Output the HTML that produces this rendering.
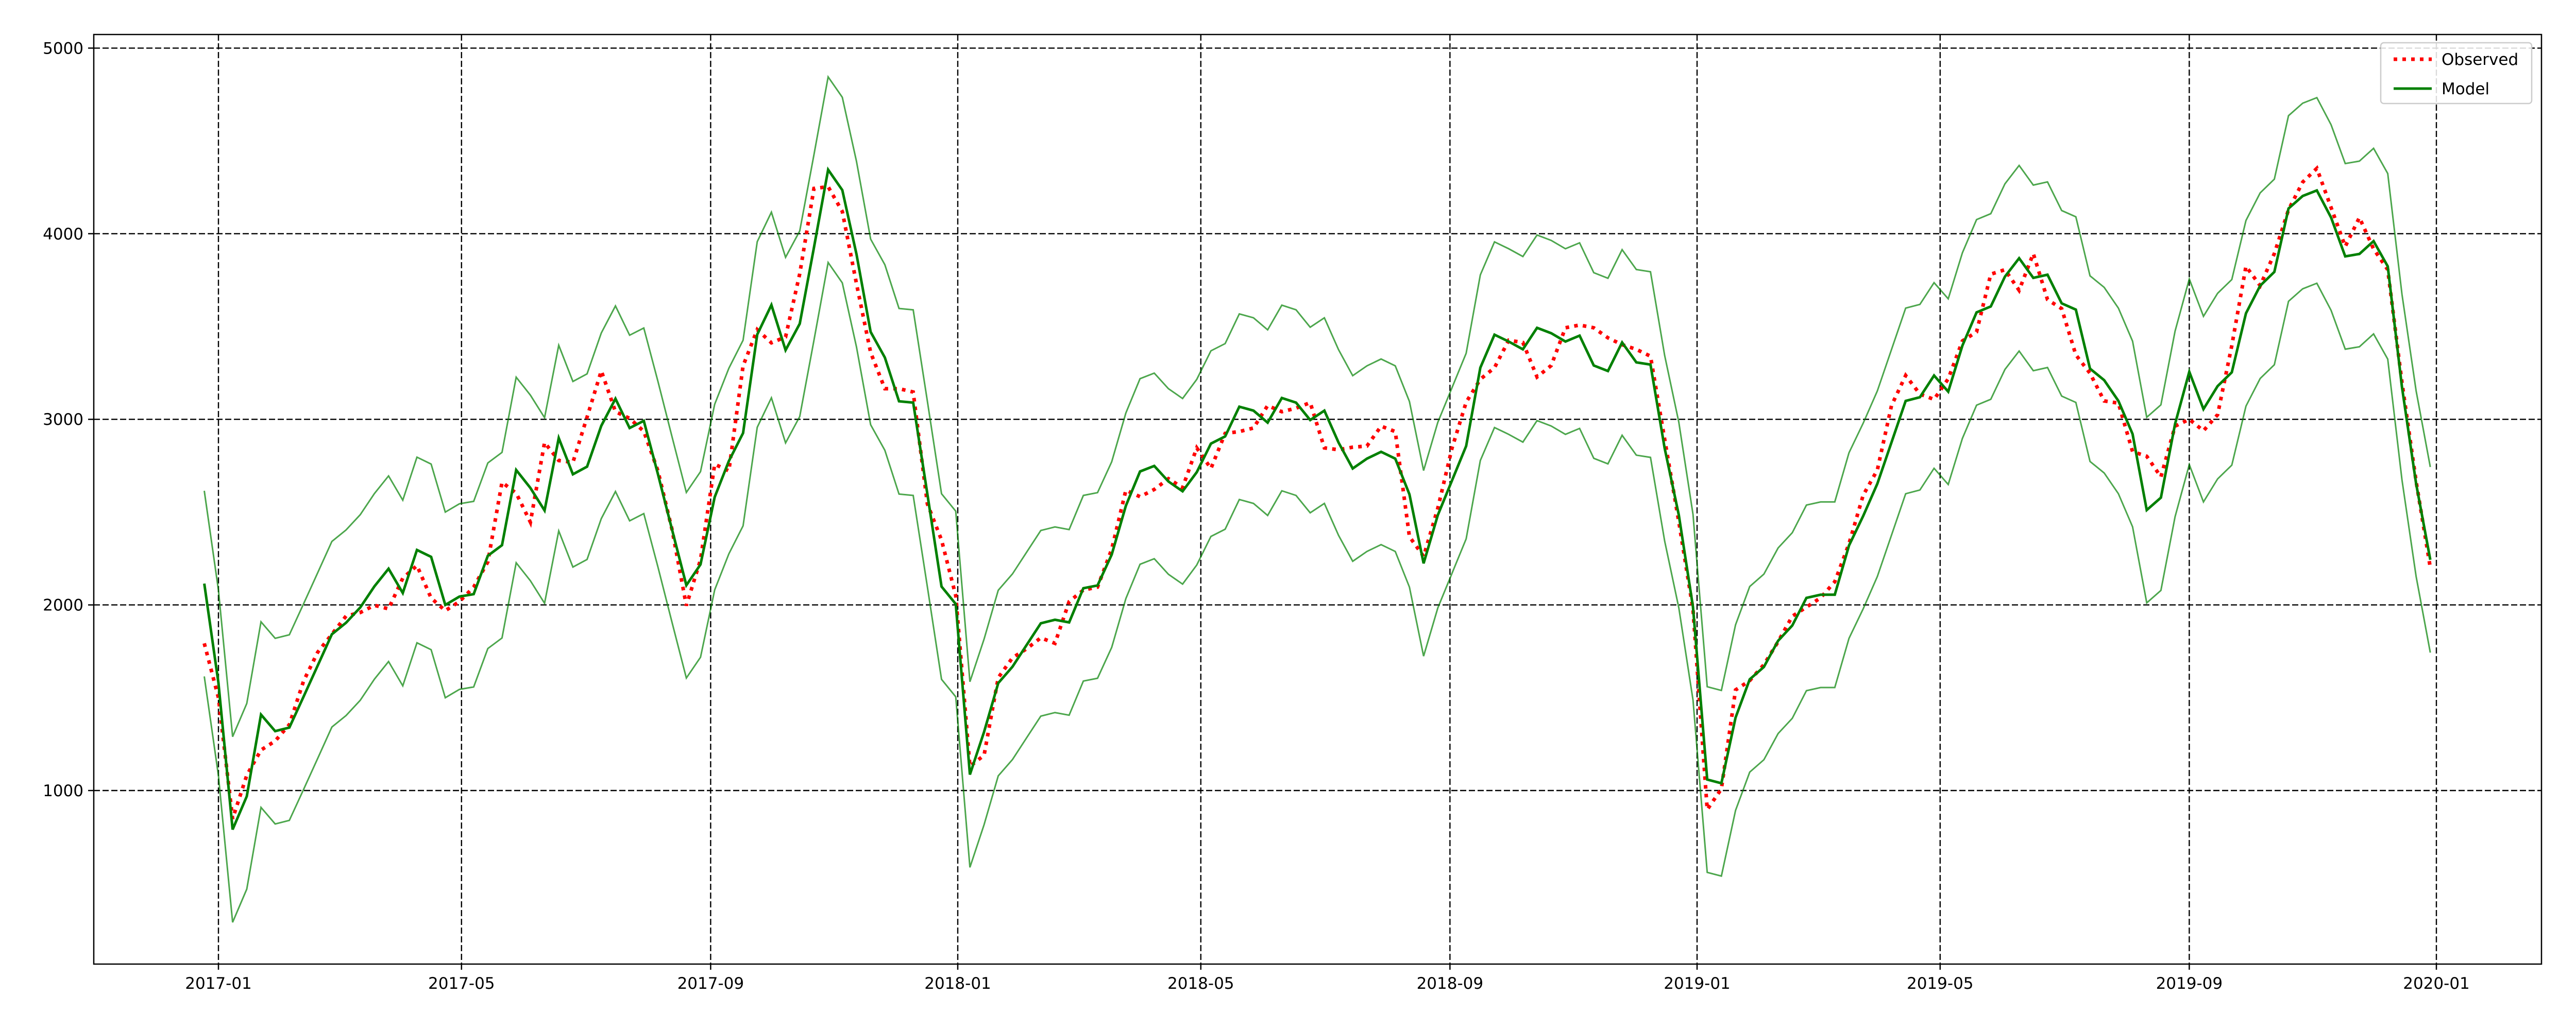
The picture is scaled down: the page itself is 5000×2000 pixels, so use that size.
<!DOCTYPE html>
<html><head><meta charset="utf-8"><style>
html,body{margin:0;padding:0;background:#fff;}
svg{display:block;}
</style></head><body>
<svg id="chart" width="5000" height="2000" viewBox="0 0 5000 2000" xmlns="http://www.w3.org/2000/svg"></svg>
<script>
const startDate = Date.UTC(2016, 11, 25);
const weekCount = 158;
const observedValues = [1793,1500,848,1082,1218,1267,1355,1589,1745,1842,1940,1959,1998,1979,2144,2212,2037,1969,2018,2096,2232,2661,2602,2446,2875,2778,2768,3012,3261,3041,3005,2935,2722,2403,1996,2244,2758,2722,3288,3483,3412,3444,3784,4244,4253,4120,3731,3360,3165,3165,3147,2545,2350,2050,
1130,1190,1608,1715,1764,1823,1793,2018,2080,2096,2300,2618,2583,2622,2680,2632,2846,2735,2924,2934,2953,3074,3041,3060,3090,2846,2836,2850,2856,2963,2934,2368,
2261,2521,2844,3092,3216,3278,3426,3414,3228,3290,3493,3508,3493,3439,3402,3377,3340,2893,2447,1976,897,1009,1542,1592,1678,1802,1939,1988,2038,2125,2330,
2591,2727,3074,3236,3136,3107,3218,3422,3471,3782,3806,3695,3893,3645,3596,3347,3248,3099,3087,2826,2801,2690,2963,3000,2938,3025,3397,3824,3720,3893,4129,
4278,4352,4141,3931,4087,3918,3806,3199,2665,2201];
const modelValues = [2115,1580,790,969,1409,1320,1339,1505,1673,1842,1904,1986,2100,2195,2064,2296,2259,2000,2045,2058,2265,2322,2727,2630,2509,2899,2704,2745,2965,3111,2953,2992,2704,2403,2106,2218,2581,2775,2926,3457,3616,3373,3515,3926,4345,4235,3890,3471,3333,3097,3090,2598,2099,2005,
1086,1316,1579,1667,1784,1901,1920,1906,2090,2105,2271,2534,2719,2749,2665,2612,2715,2869,2908,3068,3047,2982,3115,3090,2996,3047,2875,2735,2788,2825,2788,2596,
2224,2484,2670,2856,3278,3456,3419,3377,3493,3464,3419,3451,3290,3260,3414,3307,3295,2844,2484,1988,1059,1039,1393,1599,1666,1807,1889,2038,2055,2055,2320,
2479,2653,2876,3099,3119,3236,3149,3397,3576,3608,3769,3868,3762,3779,3625,3591,3273,3211,3099,2921,2511,2578,2975,3256,3055,3179,3253,3571,3720,3794,4136,
4203,4233,4087,3878,3891,3960,3824,3174,2653,2243];
const bandHalfWidth = 500;
const yTicks = [1000,2000,3000,4000,5000];
const xTickLabels = ["2017-01","2017-05","2017-09","2018-01","2018-05","2018-09","2019-01","2019-05","2019-09","2020-01"];
const legendLabels = ["Observed","Model"];

const NS = "http://www.w3.org/2000/svg";
const svg = document.getElementById('chart');
const L = 182, R = 4933, T = 67, B = 1872;
const DAY = 86400000;
const x0Date = Date.UTC(2017,0,1), x1Date = Date.UTC(2020,0,1);
function xScale(t){ return 424 + (t - x0Date)/(x1Date - x0Date)*(4729-424); }
function yScale(v){ return 1535 - (v-1000)*0.3604; }
function mk(tag, attrs){ const e=document.createElementNS(NS,tag); for(const k in attrs) e.setAttribute(k,attrs[k]); return e; }
const FONT = '"DejaVu Sans","Liberation Sans",sans-serif';

// grid
const grid = mk('g',{});


svg.appendChild(grid);
const tickG = mk('g',{});


svg.appendChild(tickG);

yTicks.forEach(v=>{
  const y=yScale(v);
  const gl=mk('line',{x1:L,x2:R,y1:y,y2:y,stroke:'#000','stroke-width':2.4,'stroke-dasharray':'12 5'});
  
  
  grid.appendChild(gl);
  const tk=mk('line',{x1:L-11,x2:L,y1:y,y2:y,stroke:'#000','stroke-width':2.5});
  
  
  tickG.appendChild(tk);
  const tx=mk('text',{x:L-20,y:y+11,'text-anchor':'end','font-size':31,'font-family':FONT,fill:'#000'});
  tx.textContent=String(v);
  
  
  tickG.appendChild(tx);
});
xTickLabels.forEach(lbl=>{
  const p=lbl.split('-');
  const x=xScale(Date.UTC(+p[0],+p[1]-1,1));
  const gl=mk('line',{x1:x,x2:x,y1:T,y2:B,stroke:'#000','stroke-width':2.4,'stroke-dasharray':'12 5'});
  
  
  grid.appendChild(gl);
  const tk=mk('line',{x1:x,x2:x,y1:B,y2:B+11,stroke:'#000','stroke-width':2.5});
  
  
  tickG.appendChild(tk);
  const tx=mk('text',{x:x,y:B+48,'text-anchor':'middle','font-size':31,'font-family':FONT,fill:'#000'});
  tx.textContent=lbl;
  
  
  tickG.appendChild(tx);
});

function pts(arr, off){
  return arr.map((v,i)=> xScale(startDate + i*7*DAY).toFixed(1)+','+yScale(v+off).toFixed(1)).join(' ');
}
const upper=mk('polyline',{points:pts(modelValues,bandHalfWidth),fill:'none',stroke:'#008000','stroke-opacity':0.7,'stroke-width':3,'stroke-linejoin':'miter'});


svg.appendChild(upper);
const lower=mk('polyline',{points:pts(modelValues,-bandHalfWidth),fill:'none',stroke:'#008000','stroke-opacity':0.7,'stroke-width':3});


svg.appendChild(lower);
const obs=mk('polyline',{points:pts(observedValues,0),fill:'none',stroke:'#ff0000','stroke-width':7,'stroke-dasharray':'7 10'});


svg.appendChild(obs);
const mod=mk('polyline',{points:pts(modelValues,0),fill:'none',stroke:'#008000','stroke-width':5});


svg.appendChild(mod);

// axes frame
const frame=mk('rect',{x:L,y:T,width:R-L,height:B-T,fill:'none',stroke:'#000','stroke-width':2.5});


svg.appendChild(frame);

// legend
const lg=mk('g',{});


svg.appendChild(lg);
const box=mk('rect',{x:4621,y:83,width:293,height:118,rx:6,fill:'#fff','fill-opacity':0.85,stroke:'#ccc','stroke-width':2.5});


lg.appendChild(box);
const s1=mk('line',{x1:4646,x2:4720,y1:115,y2:115,stroke:'#ff0000','stroke-width':7,'stroke-dasharray':'7 10'});


lg.appendChild(s1);
const t1=mk('text',{x:4739,y:126,'font-size':31,'font-family':FONT,fill:'#000'});
t1.textContent=legendLabels[0];


lg.appendChild(t1);
const s2=mk('line',{x1:4646,x2:4720,y1:172,y2:172,stroke:'#008000','stroke-width':5});


lg.appendChild(s2);
const t2=mk('text',{x:4739,y:183,'font-size':31,'font-family':FONT,fill:'#000'});
t2.textContent=legendLabels[1];


lg.appendChild(t2);
</script>
</body></html>
